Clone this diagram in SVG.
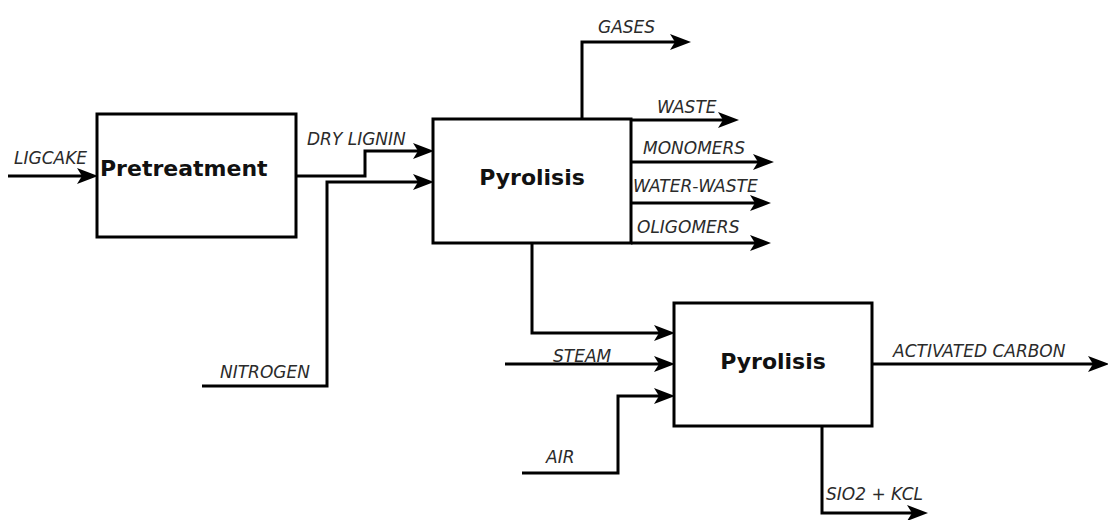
<svg xmlns="http://www.w3.org/2000/svg" width="1108" height="520" viewBox="0 0 1108 520">
  <defs>
    <marker id="arrow" markerUnits="userSpaceOnUse" markerWidth="22" markerHeight="18" refX="10" refY="8" orient="auto" overflow="visible">
      <path d="M0,0 L21,8 L0,16 L5,8 Z" fill="#000"/>
    </marker>
    <style>
      .box { fill: #fff; stroke: #000; stroke-width: 3; }
      .conn { fill: none; stroke: #000; stroke-width: 3; }
      .arr { marker-end: url(#arrow); }
      .lbl { font-family: "DejaVu Sans", Verdana, sans-serif; font-style: italic; font-size: 17px; fill: #2b2b2b; }
      .title { font-family: "DejaVu Sans", Verdana, sans-serif; font-weight: bold; font-size: 22px; fill: #111; }
    </style>
  </defs>
  <rect width="1108" height="520" fill="#fff"/>

  <g id="connectors">
    <path class="conn arr" d="M8,176 H87"/>
    <path class="conn arr" d="M296,176 H365 V151 H423"/>
    <path class="conn arr" d="M202,386 H327 V182 H423"/>
    <path class="conn arr" d="M582,119 V42 H680"/>
    <path class="conn arr" d="M631,120 H728"/>
    <path class="conn arr" d="M631,162 H763"/>
    <path class="conn arr" d="M631,203 H760"/>
    <path class="conn arr" d="M631,243 H760"/>
    <path class="conn arr" d="M532,243 V333 H664"/>
    <path class="conn arr" d="M505,364 H664"/>
    <path class="conn arr" d="M522,473 H618 V396 H664"/>
    <path class="conn arr" d="M872,364 H1098"/>
    <path class="conn arr" d="M822,426 V513 H917"/>
  </g>

  <g id="pretreatment">
    <rect class="box" x="97" y="114" width="199" height="123"/>
    <text class="title" x="100" y="176">Pretreatment</text>
  </g>

  <g id="pyrolisis1">
    <rect class="box" x="433" y="119" width="198" height="124"/>
    <text class="title" x="532" y="185" text-anchor="middle">Pyrolisis</text>
  </g>

  <g id="pyrolisis2">
    <rect class="box" x="674" y="303" width="198" height="123"/>
    <text class="title" x="773" y="369" text-anchor="middle">Pyrolisis</text>
  </g>

  <g id="labels">
    <text class="lbl" x="14" y="164">LIGCAKE</text>
    <text class="lbl" x="307" y="145">DRY LIGNIN</text>
    <text class="lbl" x="220" y="378">NITROGEN</text>
    <text class="lbl" x="598" y="33">GASES</text>
    <text class="lbl" x="657" y="113">WASTE</text>
    <text class="lbl" x="643" y="154">MONOMERS</text>
    <text class="lbl" x="633" y="192">WATER-WASTE</text>
    <text class="lbl" x="637" y="233">OLIGOMERS</text>
    <text class="lbl" x="553" y="362">STEAM</text>
    <text class="lbl" x="546" y="463">AIR</text>
    <text class="lbl" x="893" y="357">ACTIVATED CARBON</text>
    <text class="lbl" x="826" y="500">SIO2 + KCL</text>
  </g>
</svg>
